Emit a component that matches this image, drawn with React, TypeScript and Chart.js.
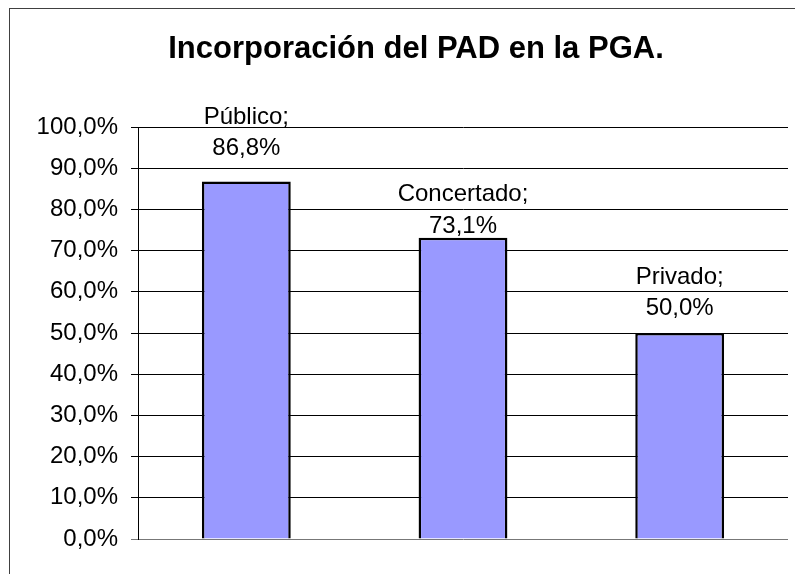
import React, { useEffect, useRef } from "react";
import { Chart, registerables } from "chart.js";

Chart.register(...registerables);

const categories = ["Público", "Concertado", "Privado"];
const values = [86.8, 73.1, 50.0];
const titleText = "Incorporación del PAD en la PGA.";
const yMin = 0;
const yMax = 100;
const yStep = 10;
// vertical lift of each data label (second line centre) above its bar top
const labelLift = [33, 11.5, 24.5];

const FONT = "'Liberation Sans', Arial, sans-serif";
const fmt = (v: number) => v.toFixed(1).replace(".", ",") + "%";

const decor = {
  id: "decor",
  beforeDraw(chart: any) {
    const ctx = chart.ctx;
    ctx.save();
    ctx.fillStyle = "#ffffff";
    ctx.fillRect(0, 0, chart.width, chart.height);
    ctx.fillStyle = "#404040";
    ctx.fillRect(9, 8, chart.width - 9, 1);
    ctx.fillRect(9, 8, 1, chart.height - 8);
    ctx.fillStyle = "#000";
    ctx.font = `bold 31px ${FONT}`;
    ctx.textAlign = "center";
    ctx.textBaseline = "alphabetic";
    ctx.fillText(titleText, 416, 58);
    ctx.restore();
  },
  afterDatasetsDraw(chart: any) {
    const ctx = chart.ctx;
    const meta = chart.getDatasetMeta(0);
    ctx.save();
    ctx.fillStyle = "#000";
    ctx.font = `24px ${FONT}`;
    ctx.textAlign = "center";
    ctx.textBaseline = "middle";
    meta.data.forEach((bar: any, i: number) => {
      const y2 = bar.y - labelLift[i];
      const y1 = y2 - 31.5;
      ctx.fillText(categories[i] + ";", bar.x, y1);
      ctx.fillText(fmt(values[i]), bar.x, y2);
    });
    ctx.restore();
  },
};

export default function App() {
  const ref = useRef<HTMLCanvasElement>(null);
  useEffect(() => {
    if (!ref.current) return;
    const chart = new Chart(ref.current, {
      type: "bar",
      data: {
        labels: categories,
        datasets: [
          {
            data: values,
            backgroundColor: "#9999FF",
            borderColor: "#000000",
            borderWidth: 2.5,
            barPercentage: 0.41,
            categoryPercentage: 1,
          },
        ],
      },
      options: {
        responsive: false,
        animation: false,
        events: [],
        layout: { padding: { top: 127, bottom: 35, right: 7, left: 0 } },
        plugins: {
          legend: { display: false },
          title: { display: false },
          tooltip: { enabled: false },
        },
        scales: {
          x: { display: false },
          y: {
            min: yMin,
            max: yMax,
            afterFit(scale: any) {
              scale.width = 138;
            },
            ticks: {
              stepSize: yStep,
              color: "#000",
              font: { family: FONT, size: 24 },
              padding: 13,
              callback: (v: any) => fmt(Number(v)),
            },
            grid: {
              color: (c: any) => (c.tick && c.tick.value === 0 ? "#777" : "#000"),
              lineWidth: 1,
              drawTicks: true,
              tickLength: 7,
            },
            border: { display: true, color: "#000", width: 1 },
          },
        },
      },
      plugins: [decor],
    });
    return () => chart.destroy();
  }, []);
  return (
    <div style={{ position: "fixed", left: 0, top: 0, width: 795, height: 574 }}>
      <canvas ref={ref} width={795} height={574} style={{ display: "block" }} />
    </div>
  );
}
